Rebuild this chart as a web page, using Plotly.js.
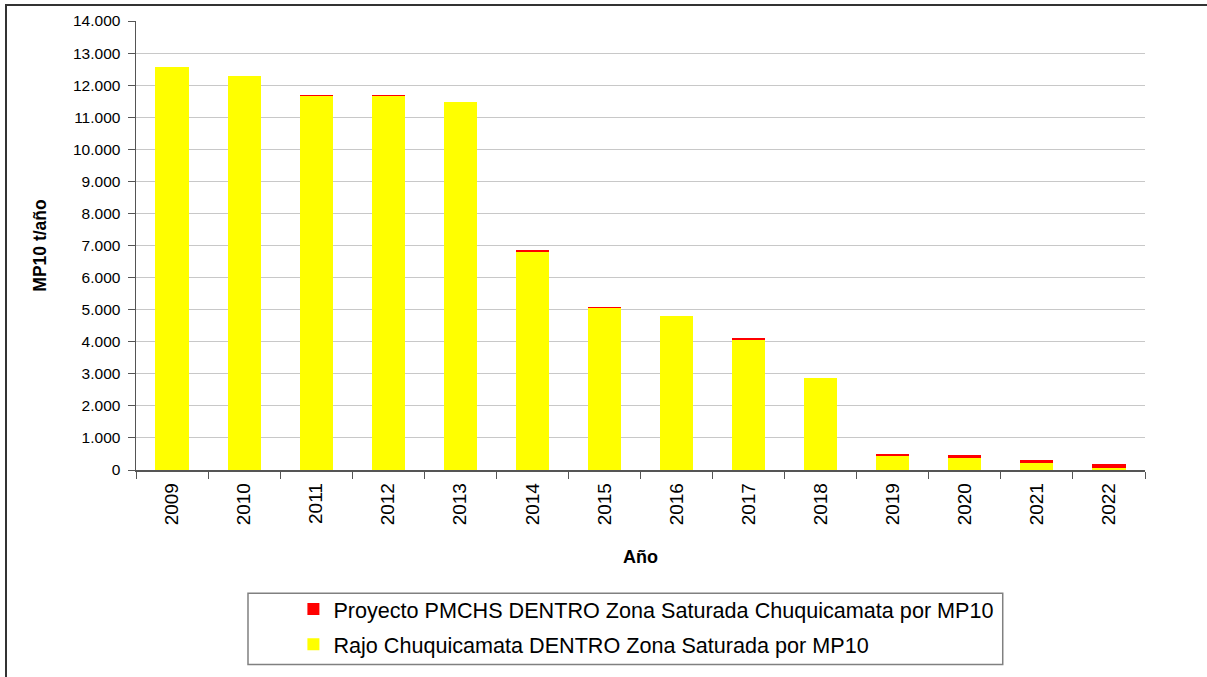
<!DOCTYPE html>
<html>
<head>
<meta charset="utf-8">
<script src="https://cdn.plot.ly/plotly-3.0.1.min.js"></script>
<style>
html,body{margin:0;padding:0;background:#fff;overflow:hidden;}
#frame{position:absolute;left:5px;top:4px;width:1220px;height:700px;border:2px solid #333;pointer-events:none;z-index:5;}
#chart{position:absolute;left:0;top:0;width:1207px;height:677px;}
</style>
</head>
<body>
<div id="chart"></div>
<div id="frame"></div>
<script>
const years = ["2009","2010","2011","2012","2013","2014","2015","2016","2017","2018","2019","2020","2021","2022"];
const rajo = [12560, 12300, 11650, 11650, 11480, 6810, 5050, 4800, 4060, 2870, 440, 375, 220, 70];
const proyecto = [0, 0, 40, 40, 0, 50, 30, 0, 65, 0, 70, 105, 105, 125];
const nameRajo = "Rajo Chuquicamata DENTRO Zona Saturada por MP10";
const nameProyecto = "Proyecto PMCHS DENTRO Zona Saturada Chuquicamata por MP10";

const traces = [
  {type:"bar", x:years, y:rajo, name:nameRajo, marker:{color:"#ffff00", line:{width:0}}, legendgroup:"a", legendrank:2},
  {type:"bar", x:years, y:proyecto, name:nameProyecto, marker:{color:"#ff0000", line:{width:0}}, legendgroup:"b", legendrank:1}
];

const layout = {
  width:1207, height:677,
  margin:{l:136, r:62, t:21, b:207, autoexpand:false},
  paper_bgcolor:"#fff", plot_bgcolor:"#fff",
  barmode:"stack", bargap:0.54,
  separators:",.",
  font:{family:"Liberation Sans, Arial, sans-serif", color:"#000", size:15},
  showlegend:true,
  legend:{x:0.156, y:-0.264, xanchor:"left", yanchor:"top", traceorder:"grouped", tracegroupgap:4,
          font:{size:21.6, family:"Liberation Sans, Arial, sans-serif"}, bgcolor:"rgba(0,0,0,0)", borderwidth:0},
  xaxis:{type:"category", tickangle:-90, tickson:"boundaries", ticks:"outside", ticklen:7, tickcolor:"#555",
         showline:true, linecolor:"#555", linewidth:1.5, showgrid:false, automargin:false,
         tickfont:{size:19}, ticklabelstandoff:4,
         title:{text:"<b>Año</b>", font:{size:18}, standoff:26}},
  yaxis:{range:[0,14000], dtick:1000, tickformat:",d", ticks:"outside", ticklen:7, tickcolor:"#555",
         showline:true, linecolor:"#555", linewidth:1.5, showgrid:true, gridcolor:"#c8c8c8", gridwidth:1,
         zeroline:false, tickfont:{size:15.5}, automargin:false, ticklabelstandoff:4,
         title:{text:"<b>MP10 t/año</b>", font:{size:17.5}, standoff:22}},
  shapes:[{type:"rect", xref:"paper", yref:"paper", x0:0.111, x1:0.859, y0:-0.433, y1:-0.2746,
           line:{color:"#808080", width:1.5}, fillcolor:"rgba(0,0,0,0)"}]
};

Plotly.newPlot("chart", traces, layout, {displayModeBar:false, staticPlot:true});
</script>
</body>
</html>
